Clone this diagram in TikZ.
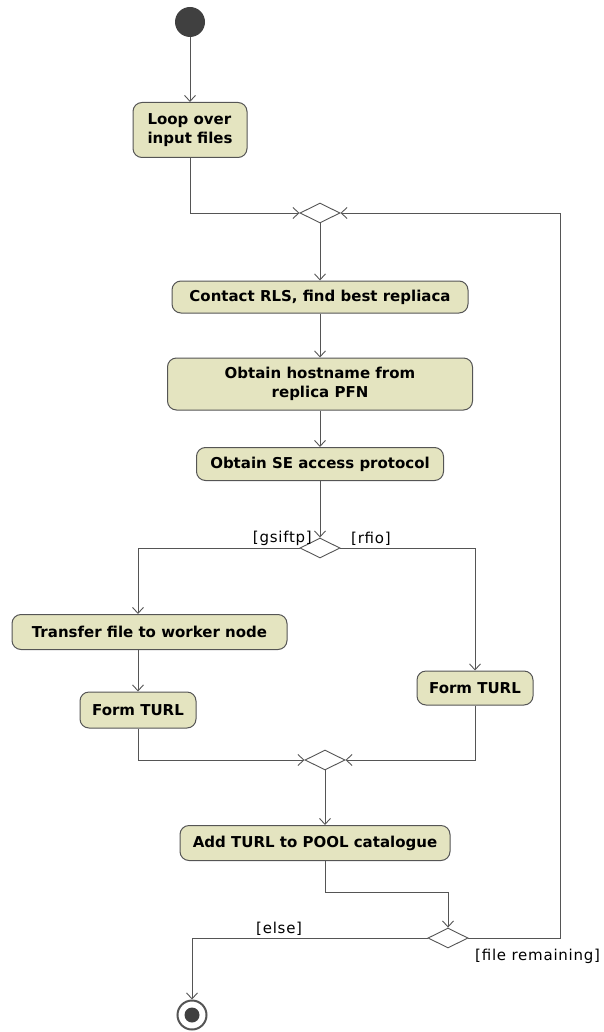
\documentclass[tikz,border=0pt]{standalone}
\usepackage{fontspec}
\setmainfont{DejaVu Sans}
\usetikzlibrary{arrows.meta,shapes.geometric}
\definecolor{boxfill}{RGB}{228,228,192}
\definecolor{linec}{RGB}{85,85,85}
\definecolor{startc}{RGB}{64,64,64}
\begin{document}
\begin{tikzpicture}[x=1pt,y=-1pt,
  act/.style={draw=linec, fill=boxfill, rounded corners=9pt, line width=1pt,
    font=\bfseries\fontsize{15}{19}\selectfont, inner sep=0pt, align=center},
  dec/.style={draw=linec, fill=white, diamond, aspect=2, minimum width=40pt,
    minimum height=20pt, inner sep=0pt, line width=0.9pt},
  flow/.style={draw=linec, line width=0.9pt, -{Straight Barb[length=6pt,width=11pt]}},
  guard/.style={font=\fontsize{15}{17}\selectfont\addfontfeature{LetterSpace=5}, inner sep=1pt}]
\useasboundingbox (0,0) rectangle (603,1032);

\node[circle, fill=startc, minimum size=30pt, inner sep=0pt] (start) at (190,22) {};
\node[act, minimum width=114pt, minimum height=55pt, align=left] (loop) at (190,130) {Loop over\\input files};
\node[dec] (m1) at (320,213) {};
\node[act, minimum width=296pt, minimum height=32pt] (rls) at (320,297) {Contact RLS, find best repliaca};
\node[act, minimum width=305pt, minimum height=52pt] (host) at (320,384) {Obtain hostname from\\replica PFN};
\node[act, minimum width=247pt, minimum height=33pt] (se) at (320,464) {Obtain SE access protocol};
\node[dec] (d2) at (320,548) {};
\node[act, minimum width=275pt, minimum height=35pt] (xfer) at (149.5,632) {Transfer file to worker node};
\node[act, minimum width=116pt, minimum height=36pt] (turl1) at (138,710) {Form TURL};
\node[act, minimum width=116pt, minimum height=34pt] (turl2) at (475,688) {Form TURL};
\node[dec] (m3) at (325,760) {};
\node[act, minimum width=270pt, minimum height=35pt] (pool) at (315,843) {Add TURL to POOL catalogue};
\node[dec] (d4) at (448,938) {};
\node[circle, draw=linec, line width=2pt, fill=white, minimum size=29pt, inner sep=0pt] (end) at (192,1015) {};
\node[circle, fill=startc, minimum size=15pt, inner sep=0pt] (endin) at (end) {};

\coordinate (c2) at (560,213);
\coordinate (bend) at (325,892);

\draw[flow] (start) -- (loop);
\draw[flow] (loop.south) |- (m1.west);
\draw[flow] (d4.east) -| (c2) -- (m1.east);
\draw[flow] (m1.south) -- (rls.north);
\draw[flow] (rls) -- (host);
\draw[flow] (host) -- (se);
\draw[flow] (se.south) -- (d2.north);
\draw[flow] (d2.west) -| (xfer.north -| turl1);
\draw[flow] (xfer.south -| turl1) -- (turl1.north);
\draw[flow] (d2.east) -| (turl2.north);
\draw[flow] (turl1.south) |- (m3.west);
\draw[flow] (turl2.south) |- (m3.east);
\draw[flow] (m3.south) -- (pool.north -| m3);
\draw[flow] (pool.south -| bend) -- (bend) -| (d4.north);
\draw[flow] (d4.west) -| (end.north);

\node[guard, anchor=south east] (g1) at (313,547) {[gsiftp]};
\node[guard, anchor=south west] (g2) at (350,547) {[rfio]};
\node[guard, anchor=south west] (g3) at (255,937) {[else]};
\node[guard, anchor=north west] (g4) at (474,948) {[file remaining]};
\end{tikzpicture}
\end{document}
